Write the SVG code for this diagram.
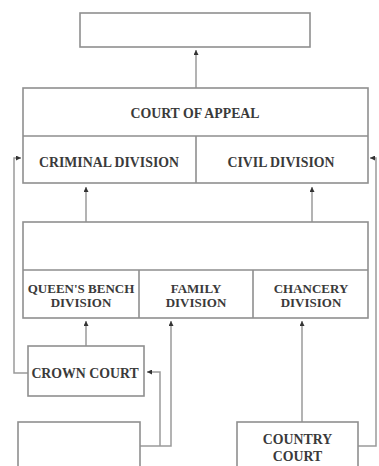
<svg xmlns="http://www.w3.org/2000/svg" width="379" height="466" viewBox="0 0 379 466">
<defs>
<style>
.box{fill:#fff;stroke:#8f8f8f;stroke-width:1.6}
.div{stroke:#8f8f8f;stroke-width:1.6;fill:none}
.conn{stroke:#9a9a9a;stroke-width:1.5;fill:none}
.t{font-family:"Liberation Serif","Times New Roman",serif;font-weight:bold;font-size:13.8px;fill:#3a3a3a;text-anchor:middle}
.s{font-size:13px}
</style>
<marker id="ah" viewBox="0 0 6 6" refX="6" refY="3" markerWidth="5" markerHeight="5" markerUnits="userSpaceOnUse" orient="auto">
<path d="M0,0 L6,3 L0,6 Z" fill="#333"/>
</marker>
</defs>
<rect width="379" height="466" fill="#fff"/>
<g id="connectors">
<path class="conn" d="M196,88 V50" marker-end="url(#ah)"/>
<path class="conn" d="M86,222 V187" marker-end="url(#ah)"/>
<path class="conn" d="M312,222 V187" marker-end="url(#ah)"/>
<path class="conn" d="M86,346 V321" marker-end="url(#ah)"/>
<path class="conn" d="M302,422 V321" marker-end="url(#ah)"/>
<path class="conn" d="M140,446 H171 V321" marker-end="url(#ah)"/>
<path class="conn" d="M160,446 V372 H147" marker-end="url(#ah)"/>
<path class="conn" d="M28,373 H14 V158 H21" marker-end="url(#ah)"/>
<path class="conn" d="M358,446 H376 V158 H370" marker-end="url(#ah)"/>
</g>
<g id="supreme">
<rect class="box" x="80" y="13" width="230" height="34"/>
</g>
<g id="court-of-appeal">
<rect class="box" x="23" y="88" width="345" height="95"/>
<path class="div" d="M23,136 H368 M196,136 V183"/>
<text class="t" x="195" y="117.5">COURT OF APPEAL</text>
<text class="t" x="109" y="166.5">CRIMINAL DIVISION</text>
<text class="t" x="281" y="166.5">CIVIL DIVISION</text>
</g>
<g id="high-court">
<rect class="box" x="23" y="222" width="345" height="96"/>
<path class="div" d="M23,270 H368 M139,270 V318 M253,270 V318"/>
<text class="t s" x="81" y="292.5">QUEEN'S BENCH</text>
<text class="t s" x="81" y="306.5">DIVISION</text>
<text class="t s" x="196" y="292.5">FAMILY</text>
<text class="t s" x="196" y="306.5">DIVISION</text>
<text class="t s" x="311" y="292.5">CHANCERY</text>
<text class="t s" x="311" y="306.5">DIVISION</text>
</g>
<g id="crown-court">
<rect class="box" x="28" y="346" width="116" height="50"/>
<text class="t" x="85" y="377.5">CROWN COURT</text>
</g>
<g id="magistrates">
<rect class="box" x="18" y="422" width="122" height="60"/>
</g>
<g id="country-court">
<rect class="box" x="237" y="422" width="121" height="60"/>
<text class="t" x="297.5" y="443.5">COUNTRY</text>
<text class="t" x="297.5" y="460.5">COURT</text>
</g>
</svg>
